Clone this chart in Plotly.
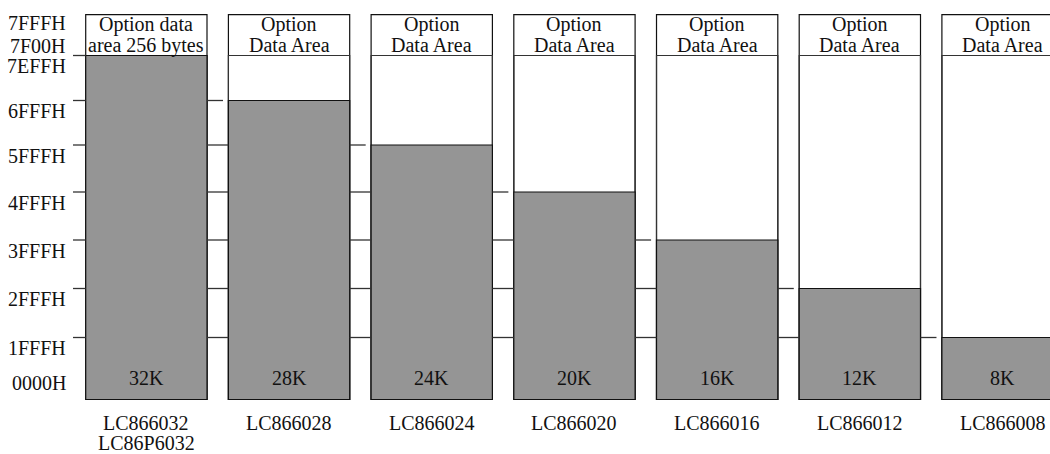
import numpy as np
import plotly.graph_objects as go

# ---- data ----
models = [["LC866032", "LC86P6032"], ["LC866028"], ["LC866024"], ["LC866020"],
          ["LC866016"], ["LC866012"], ["LC866008"]]
sizes = ["32K", "28K", "24K", "20K", "16K", "12K", "8K"]
# index of the address boundary where each program area ends
top_level = [7, 6, 5, 4, 3, 2, 1]
option_text = [["Option data", "area 256 bytes"]] + [["Option", "Data Area"]] * 6
address_labels = ["0000H", "1FFFH", "2FFFH", "3FFFH", "4FFFH", "5FFFH", "6FFFH", "7EFFH"]
option_start_label = "7F00H"
end_label = "7FFFH"

# ---- schematic layout (drawing heights of each address band, px) ----
band_px = [62, 49, 48.5, 48, 47, 44.5, 45, 40.8]
level_pos = np.concatenate([[0], np.cumsum(band_px)])  # boundary positions on y axis
OPT_LEVEL = 7
END_LEVEL = 8

FONT = dict(family="Liberation Serif, Times New Roman, serif", size=20, color="#111")
GRAY = "#959595"
EDGE = "#111"
BAR_W = 0.85
n = len(models)
xs = list(range(n))

fig = go.Figure()
fig.add_trace(go.Bar(x=xs, y=[level_pos[END_LEVEL]] * n, width=BAR_W,
                     marker=dict(color="white", line=dict(color=EDGE, width=1.2)),
                     hoverinfo="skip"))
fig.add_trace(go.Bar(x=xs, y=[level_pos[OPT_LEVEL]] * n, width=BAR_W,
                     marker=dict(color="rgba(0,0,0,0)", line=dict(color="#333", width=1.2)),
                     hoverinfo="skip"))
fig.add_trace(go.Bar(x=xs, y=[level_pos[t] for t in top_level], width=BAR_W,
                     marker=dict(color=GRAY, line=dict(color=EDGE, width=1.2)),
                     hoverinfo="skip"))

half = BAR_W / 2
shapes = []
line_style = dict(color="#333", width=1.3)
# short ticks left of the first column
for lvl in range(1, OPT_LEVEL + 1):
    shapes.append(dict(type="line", xref="x", yref="y", x0=-half - 0.089, x1=-half,
                       y0=level_pos[lvl], y1=level_pos[lvl], line=line_style))
# connecting lines between columns
for i in range(n - 1):
    t = top_level[i + 1]
    for lvl in range(1, t):
        shapes.append(dict(type="line", xref="x", yref="y", x0=i + half, x1=i + 1 - half,
                           y0=level_pos[lvl], y1=level_pos[lvl], line=line_style))
    shapes.append(dict(type="line", xref="x", yref="y", x0=i + half, x1=i + half + 0.112,
                       y0=level_pos[t], y1=level_pos[t], line=line_style))

ann = []
def add_text(x, y, text, xanchor="center", xshift=0, yshift=0):
    ann.append(dict(x=x, y=y, xref="x", yref="y", text=text, showarrow=False,
                    xanchor=xanchor, yanchor="middle", xshift=xshift, yshift=yshift,
                    font=FONT))

# address labels
for lvl, lab in enumerate(address_labels):
    ys = 17 if lvl == 0 else -10.5
    add_text(0, level_pos[lvl], lab, xanchor="right", xshift=-78, yshift=ys)
add_text(0, level_pos[OPT_LEVEL], option_start_label, xanchor="right", xshift=-78, yshift=10)
add_text(0, level_pos[END_LEVEL], end_label, xanchor="right", xshift=-78, yshift=-8.6)

for i in range(n):
    add_text(i, level_pos[0], sizes[i], yshift=22)
    for k, line in enumerate(models[i]):
        add_text(i, level_pos[0], line, yshift=-23.2 - 20.5 * k)
    add_text(i, level_pos[END_LEVEL], option_text[i][0], yshift=-9.8)
    add_text(i, level_pos[OPT_LEVEL], option_text[i][1], yshift=10.2)

fig.update_layout(
    width=1050, height=454,
    margin=dict(l=0, r=0, t=0, b=0),
    paper_bgcolor="white", plot_bgcolor="white",
    barmode="overlay", showlegend=False, hovermode=False,
    xaxis=dict(range=[-1.0256, 6.3325], visible=False, fixedrange=True),
    yaxis=dict(range=[-54.5, 399.5], visible=False, fixedrange=True),
    shapes=shapes, annotations=ann,
)
# remove the default page margin so the figure fills the window exactly
fig.write_html("out.html", config={"displayModeBar": False, "staticPlot": True},
               post_script="document.body.style.margin='0px';document.body.style.overflow='hidden';")
